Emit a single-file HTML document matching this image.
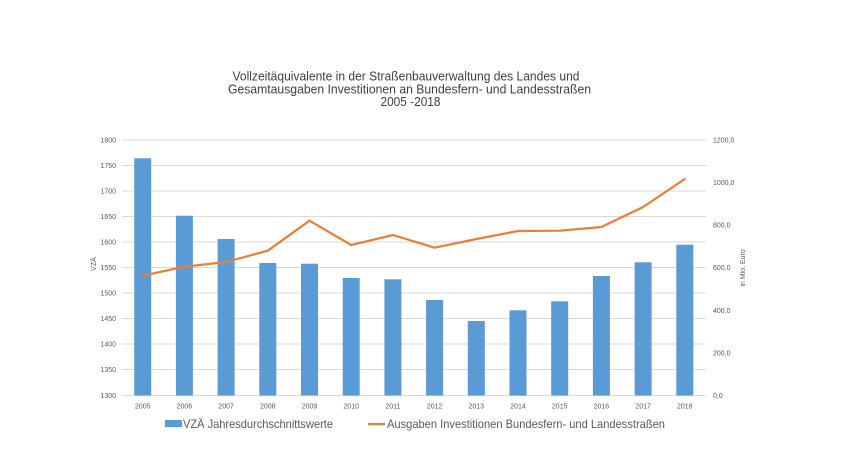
<!DOCTYPE html>
<html>
<head>
<meta charset="utf-8">
<style>
html,body{margin:0;padding:0;background:#fff;}
svg{display:block;}
text{font-family:"Liberation Sans",sans-serif;}
</style>
</head>
<body>
<svg width="842" height="474" viewBox="0 0 842 474" xmlns="http://www.w3.org/2000/svg">
<rect width="842" height="474" fill="#fff"/>
<!-- Title -->
<g fill="#404040" font-size="12.5" text-anchor="middle">
<text x="406" y="80.5" textLength="347" lengthAdjust="spacingAndGlyphs">Vollzeitäquivalente in der Straßenbauverwaltung des Landes und</text>
<text x="409.5" y="93.3" textLength="363" lengthAdjust="spacingAndGlyphs">Gesamtausgaben Investitionen an Bundesfern- und Landesstraßen</text>
<text x="410.5" y="105.8" textLength="60" lengthAdjust="spacingAndGlyphs">2005 -2018</text>
</g>
<!-- Gridlines -->
<g stroke="#d9d9d9" stroke-width="1">
<line x1="122" y1="140" x2="706" y2="140"/>
<line x1="122" y1="165.5" x2="706" y2="165.5"/>
<line x1="122" y1="191" x2="706" y2="191"/>
<line x1="122" y1="216.5" x2="706" y2="216.5"/>
<line x1="122" y1="242" x2="706" y2="242"/>
<line x1="122" y1="267.5" x2="706" y2="267.5"/>
<line x1="122" y1="293" x2="706" y2="293"/>
<line x1="122" y1="318.5" x2="706" y2="318.5"/>
<line x1="122" y1="344" x2="706" y2="344"/>
<line x1="122" y1="369.5" x2="706" y2="369.5"/>
<line x1="122" y1="395.5" x2="706" y2="395.5"/>
</g>
<!-- Left axis labels -->
<g fill="#595959" font-size="7" text-anchor="end">
<text x="116" y="142.5">1800</text>
<text x="116" y="168">1750</text>
<text x="116" y="193.5">1700</text>
<text x="116" y="219">1650</text>
<text x="116" y="244.5">1600</text>
<text x="116" y="270">1550</text>
<text x="116" y="295.5">1500</text>
<text x="116" y="321">1450</text>
<text x="116" y="346.5">1400</text>
<text x="116" y="372">1350</text>
<text x="116" y="398">1300</text>
</g>
<text x="0" y="0" fill="#595959" font-size="7" text-anchor="middle" transform="translate(96,264) rotate(-90)">VZÄ</text>
<!-- Right axis labels -->
<g fill="#595959" font-size="7" text-anchor="start">
<text x="713" y="142.5">1200,0</text>
<text x="713" y="185">1000,0</text>
<text x="713" y="227.6">800,0</text>
<text x="713" y="270.2">600,0</text>
<text x="713" y="312.8">400,0</text>
<text x="713" y="355.4">200,0</text>
<text x="713" y="398">0,0</text>
</g>
<text x="0" y="0" fill="#595959" font-size="7" text-anchor="middle" transform="translate(745,268) rotate(-90)">in Mio. Euro</text>
<!-- Bars -->
<g fill="#5b9bd5">
<rect x="134.2" y="158.3" width="17" height="237.2"/>
<rect x="175.9" y="215.7" width="17" height="179.8"/>
<rect x="217.6" y="239" width="17" height="156.5"/>
<rect x="259.3" y="263" width="17" height="132.5"/>
<rect x="301" y="263.7" width="17" height="131.8"/>
<rect x="342.7" y="278" width="17" height="117.5"/>
<rect x="384.4" y="279.3" width="17" height="116.2"/>
<rect x="426.1" y="300" width="17" height="95.5"/>
<rect x="467.8" y="321" width="17" height="74.5"/>
<rect x="509.5" y="310.3" width="17" height="85.2"/>
<rect x="551.2" y="301.3" width="17" height="94.2"/>
<rect x="592.9" y="276" width="17" height="119.5"/>
<rect x="634.6" y="262.3" width="17" height="133.2"/>
<rect x="676.3" y="244.7" width="17" height="150.8"/>
</g>
<!-- Line -->
<polyline fill="none" stroke="#ed7d31" stroke-width="2.2" stroke-linejoin="round" stroke-linecap="round"
points="142.7,275.7 184.4,266.7 226.1,262 267.8,250.7 309.5,220.7 351.2,245 392.9,235 434.6,247.7 476.3,239 518,231 559.7,230.7 601.4,227 643.1,207 684.8,179"/>
<!-- X labels -->
<g fill="#595959" font-size="7" text-anchor="middle">
<text x="142.7" y="408.5">2005</text>
<text x="184.4" y="408.5">2006</text>
<text x="226.1" y="408.5">2007</text>
<text x="267.8" y="408.5">2008</text>
<text x="309.5" y="408.5">2009</text>
<text x="351.2" y="408.5">2010</text>
<text x="392.9" y="408.5">2011</text>
<text x="434.6" y="408.5">2012</text>
<text x="476.3" y="408.5">2013</text>
<text x="518" y="408.5">2014</text>
<text x="559.7" y="408.5">2015</text>
<text x="601.4" y="408.5">2016</text>
<text x="643.1" y="408.5">2017</text>
<text x="684.8" y="408.5">2018</text>
</g>
<!-- Legend -->
<rect x="165" y="420" width="17" height="7" fill="#5b9bd5"/>
<text x="183" y="428" fill="#595959" font-size="12" textLength="150" lengthAdjust="spacingAndGlyphs">VZÄ Jahresdurchschnittswerte</text>
<line x1="368" y1="424" x2="385" y2="424" stroke="#ed7d31" stroke-width="2.2"/>
<text x="387" y="428" fill="#595959" font-size="12" textLength="278" lengthAdjust="spacingAndGlyphs">Ausgaben Investitionen Bundesfern- und Landesstraßen</text>
</svg>
</body>
</html>
